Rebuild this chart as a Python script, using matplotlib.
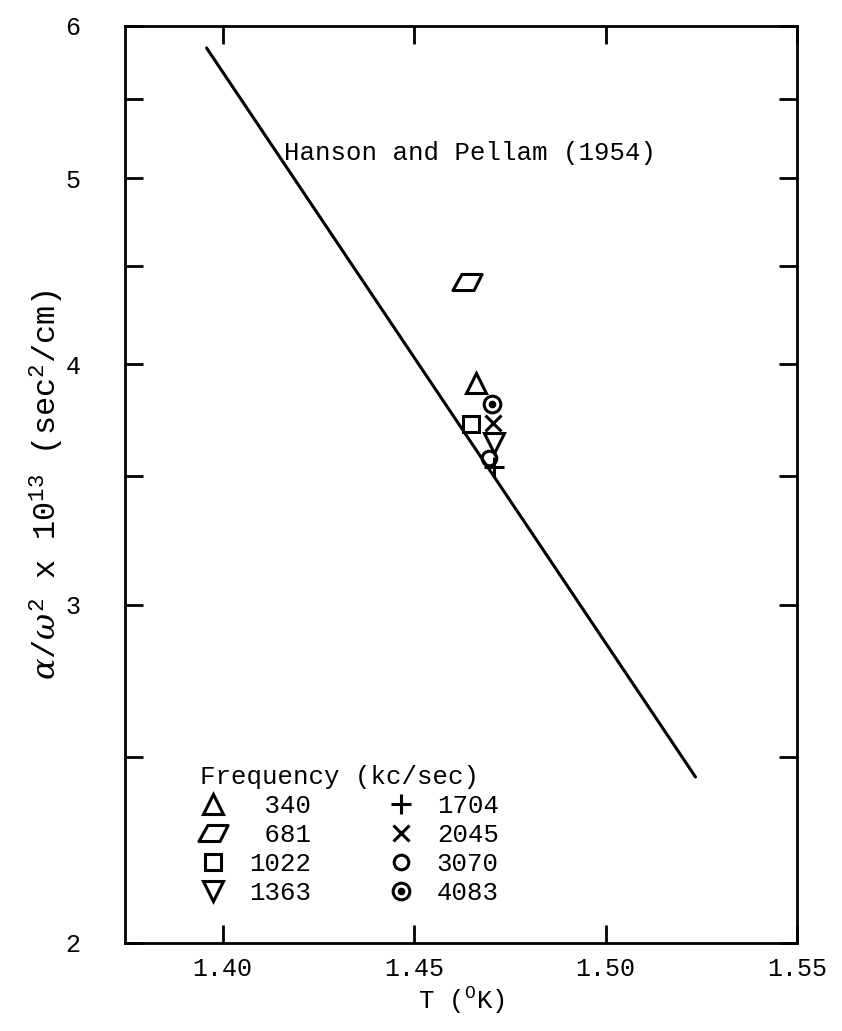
import numpy as np
import matplotlib
matplotlib.use('Agg')
import matplotlib.pyplot as plt
from matplotlib.path import Path
from matplotlib.ticker import NullFormatter, NullLocator

FONT = 'Liberation Mono'
plt.rcParams['font.family'] = [FONT, 'DejaVu Sans']
plt.rcParams['mathtext.fontset'] = 'custom'
plt.rcParams['mathtext.rm'] = FONT
plt.rcParams['mathtext.it'] = 'DejaVu Serif:italic'

# data
freqs = ['340', '681', '1022', '1363', '1704', '2045', '3070', '4083']
T_pts = [1.4662, 1.4639, 1.4649, 1.4709, 1.4709, 1.4706, 1.4696, 1.4704]
a_pts = [3.912, 4.415, 3.725, 3.641, 3.538, 3.730, 3.576, 3.815]

# Hanson and Pellam (1954) line
T_line = [1.3958, 1.5235]
a_line = [5.844, 2.44]

# parallelogram marker for 681 kc/sec
para = Path([(-0.38, 0.55), (1.0, 0.55), (0.45, -0.55), (-1.0, -0.55), (-0.38, 0.55)],
            [Path.MOVETO, Path.LINETO, Path.LINETO, Path.LINETO, Path.CLOSEPOLY])

styles = [dict(marker='^', ms=14),
          dict(marker=para, ms=21),
          dict(marker='s', ms=12),
          dict(marker='v', ms=14),
          dict(marker='+', ms=15),
          dict(marker='x', ms=11),
          dict(marker='o', ms=10.5),
          dict(marker='o', ms=12)]

fig = plt.figure(figsize=(8.42, 10.31), dpi=100)
ax = fig.add_axes([0.1485, 0.0854, 0.798, 0.8894])

ax.plot(T_line, a_line, color='k', lw=2.2, solid_capstyle='round')

handles = []
for i, f in enumerate(freqs):
    h, = ax.plot(T_pts[i], a_pts[i], ls='none', color='k', mfc='none', mew=2.2,
                 solid_joinstyle='round', **styles[i])
    if f == '4083':
        d, = ax.plot(T_pts[i], a_pts[i], ls='none', color='k', marker='o', ms=4.5)
        h = (h, d)
    handles.append(h)

ax.set_yscale('log')
ax.set_xlim(1.3745, 1.55)
ax.set_ylim(2, 6)

ax.set_xticks([1.40, 1.45, 1.50, 1.55], labels=['1.40', '1.45', '1.50', '1.55'])
ax.set_yticks([2, 3, 4, 5, 6], labels=['2', '3', '4', '5', '6'])
ax.set_yticks([2.5, 3.5, 4.5, 5.5], minor=True)
ax.yaxis.set_minor_formatter(NullFormatter())
ax.xaxis.set_minor_locator(NullLocator())

ax.tick_params(which='both', direction='in', length=13, width=2, top=True, right=True)
ax.tick_params(axis='x', labelsize=18, pad=10)
ax.tick_params(axis='y', labelsize=18, pad=32)
for s in ax.spines.values():
    s.set_linewidth(2)

ax.set_xlabel(r'T ($^{\mathrm{O}}$K)', fontsize=18.5, labelpad=3)
ax.set_ylabel(r'$\alpha/\omega^{2}$ x 10$^{13}$ (sec$^{2}$/cm)', fontsize=23, labelpad=0)

ax.text(1.4161, 5.153, 'Hanson and Pellam (1954)', fontsize=18.5, va='center', ha='left')

labels = [' 340', ' 681', '1022', '1363', '1704', '2045', '3070', '4083']
leg = ax.legend(handles, labels, ncol=2, title='Frequency (kc/sec)', loc='upper left',
                bbox_to_anchor=(0.085, 0.214), frameon=False, alignment='left',
                fontsize=18.5, title_fontsize=18.5, handlelength=1.0, handletextpad=0.9,
                columnspacing=3.0, labelspacing=0.2, borderpad=0.2)

fig.savefig('out.png', dpi=100)
